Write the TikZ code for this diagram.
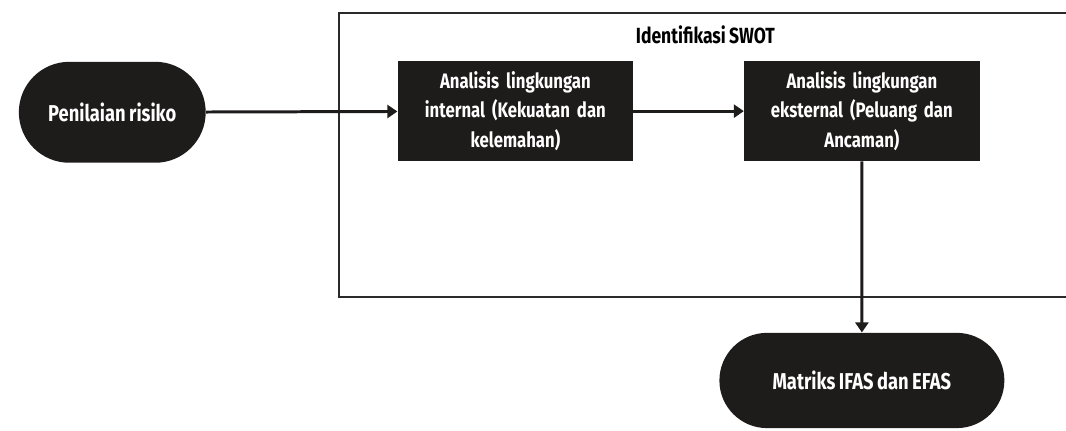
\documentclass[tikz,border=0pt]{standalone}
\usepackage{fontspec}
\setmainfont{Fira Sans}[FakeStretch=0.8, WordSpace=0.8]
\usepackage{tikz}
\usetikzlibrary{arrows.meta, positioning, shapes}

\definecolor{boxdark}{HTML}{1E1B1B}
\definecolor{framegray}{HTML}{2A2A2A}

\begin{document}
\begin{tikzpicture}[
  terminal/.style={rounded rectangle, fill=boxdark, text=white, minimum width=3.53cm, minimum height=1.78cm, font=\bfseries\fontsize{11.5}{15}\selectfont},
  process/.style={rectangle, fill=boxdark, text=white, minimum width=4.15cm, minimum height=1.76cm, text width=3.9cm, align=center, inner sep=0pt, font=\bfseries\fontsize{10.5}{15}\selectfont},
  arrow/.style={-{Triangle[length=5pt, width=6.5pt]}, line width=1.5pt, draw=boxdark}
]

\useasboundingbox (0,0) rectangle (18.80,-7.585);

% kerangka identifikasi SWOT
\draw[framegray, line width=1.1pt] (5.98,-0.23) rectangle (18.84,-5.24);
\node[font=\bfseries\fontsize{11}{12}\selectfont] (swot) at (12.44,-0.62) {Identifikasi SWOT};

\node[terminal] (risiko) at (1.98,-1.98) {Penilaian risiko};
\node[process] (internal) at (9.09,-1.96) {Analisis lingkungan\\internal (Kekuatan dan\\kelemahan)};
\node[process] (eksternal) at (15.20,-1.96) {Analisis lingkungan\\eksternal (Peluang dan\\Ancaman)};
\node[terminal, minimum width=5.26cm, minimum height=1.68cm] (matriks) at (15.20,-6.71) {Matriks IFAS dan EFAS};

\draw[arrow] (risiko) -- (internal);
\draw[arrow] (internal) -- (eksternal);
\draw[arrow] (eksternal) -- (matriks);

\end{tikzpicture}
\end{document}
